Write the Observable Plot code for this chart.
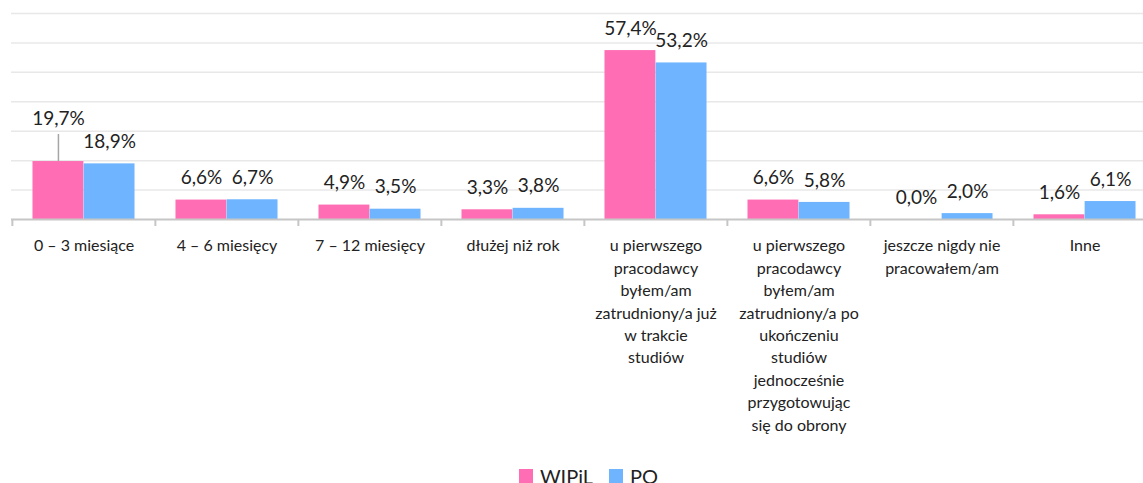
<!DOCTYPE html>
<html>
<head>
<meta charset="utf-8">
<script src="https://cdn.jsdelivr.net/npm/d3@7"></script>
<script src="https://cdn.jsdelivr.net/npm/@observablehq/plot@0.6"></script>
<style>
  html, body { margin: 0; padding: 0; background: #fff; }
  body { width: 1143px; height: 483px; overflow: hidden; font-family: Lato, "Open Sans", sans-serif; }
  #chart svg { display: block; }
  #legend { display: flex; justify-content: center; align-items: center; gap: 16px; padding-left: 34px; font-size: 20px; color: #222; line-height: 24px; margin-top: 2px; }
  #legend .item { display: flex; align-items: center; }
  #legend span.sw { display: inline-block; width: 14px; height: 14px; margin-right: 7px; }
</style>
</head>
<body>
<div id="chart"></div>
<div id="legend"></div>
<script>
const categories = [
  "0 – 3 miesiące",
  "4 – 6 miesięcy",
  "7 – 12 miesięcy",
  "dłużej niż rok",
  "u pierwszego\npracodawcy\nbyłem/am\nzatrudniony/a już\nw trakcie\nstudiów",
  "u pierwszego\npracodawcy\nbyłem/am\nzatrudniony/a po\nukończeniu\nstudiów\njednocześnie\nprzygotowując\nsię do obrony",
  "jeszcze nigdy nie\npracowałem/am",
  "Inne"
];
const seriesNames = ["WIPiL", "PO"];
const wipil = [19.7, 6.6, 4.9, 3.3, 57.4, 6.6, 0.0, 1.6];
const po    = [18.9, 6.7, 3.5, 3.8, 53.2, 5.8, 2.0, 6.1];
const colors = ["#FF6EB4", "#6EB4FF"];
const yTicks = [0, 10, 20, 30, 40, 50, 60, 70];

const fmt = v => v.toFixed(1).replace(".", ",") + "%";

const data = [];
categories.forEach((c, i) => {
  data.push({cat: c, series: seriesNames[0], value: wipil[i], idx: 0, ci: i});
  data.push({cat: c, series: seriesNames[1], value: po[i], idx: 1, ci: i});
});

const W = 1143, H = 462;
const mTop = 13, mBottom = H - 219, mLeft = 11;
const xRange = [11, 1157];
const step = (xRange[1] - xRange[0]) / categories.length;
const groupPad = 0.286;
const barW = step * (1 - groupPad) / 2;
const sideGap = step * groupPad / 2;
const pxPerUnit = (H - mBottom - mTop) / 70;
const offPink = -step / 2 + sideGap + barW / 2;
const offBlue = -offPink;

// first WIPiL label is lifted with a leader line
const lifted = d => d.ci === 0 && d.idx === 0;
const leaderPx = 27;
const labelDy = -22;

const pinkData = data.filter(d => d.idx === 0);
const blueData = data.filter(d => d.idx === 1);

const labelOpts = {x: "cat", y: "value", text: d => fmt(d.value), fontSize: 19, fill: "#222"};

const plot = Plot.plot({
  width: W,
  height: H,
  marginTop: mTop,
  marginBottom: mBottom,
  marginLeft: mLeft,
  marginRight: 0,
  style: {fontFamily: "Lato, 'Open Sans', sans-serif", color: "#222", background: "#fff"},
  x: {domain: categories, range: xRange, padding: 0, label: null, axis: null},
  y: {domain: [0, 70], label: null, axis: null},
  marks: [
    Plot.ruleY(yTicks.slice(1), {stroke: "#e8e8e8", strokeWidth: 1.5}),
    Plot.barY(pinkData, {
      x: "cat", y: "value", fill: colors[0],
      insetLeft: sideGap, insetRight: step - sideGap - barW
    }),
    Plot.barY(blueData, {
      x: "cat", y: "value", fill: colors[1],
      insetLeft: sideGap + barW, insetRight: sideGap
    }),
    Plot.ruleY([0], {stroke: "#c6c6c6", strokeWidth: 2}),
    // category boundary ticks
    Plot.ruleX(categories, {x: d => d, dx: -step / 2, y1: 0, y2: -7 / pxPerUnit, stroke: "#c6c6c6", strokeWidth: 2}),
    Plot.ruleX([categories[categories.length - 1]], {x: d => d, dx: step / 2, y1: 0, y2: -7 / pxPerUnit, stroke: "#c6c6c6", strokeWidth: 2}),
    // leader line
    Plot.ruleX(pinkData.filter(lifted), {
      x: "cat", dx: offPink,
      y1: d => d.value, y2: d => d.value + leaderPx / pxPerUnit,
      stroke: "#a6a6a6", strokeWidth: 1.5
    }),
    Plot.text(pinkData.filter(d => !lifted(d)), {...labelOpts, dx: offPink, dy: labelDy}),
    Plot.text(pinkData.filter(lifted), {...labelOpts, dx: offPink, dy: labelDy - 21}),
    Plot.text(blueData, {...labelOpts, dx: offBlue, dy: labelDy}),
    Plot.axisX({
      tickSize: 0, tickPadding: 16, fontSize: 16, lineHeight: 1.4,
      fill: "#222"
    })
  ]
});

document.getElementById("chart").appendChild(plot);

const legend = document.getElementById("legend");
seriesNames.forEach((name, i) => {
  const item = document.createElement("div");
  item.className = "item";
  const sw = document.createElement("span");
  sw.className = "sw";
  sw.style.background = colors[i];
  item.appendChild(sw);
  item.appendChild(document.createTextNode(name));
  legend.appendChild(item);
});
</script>
</body>
</html>
